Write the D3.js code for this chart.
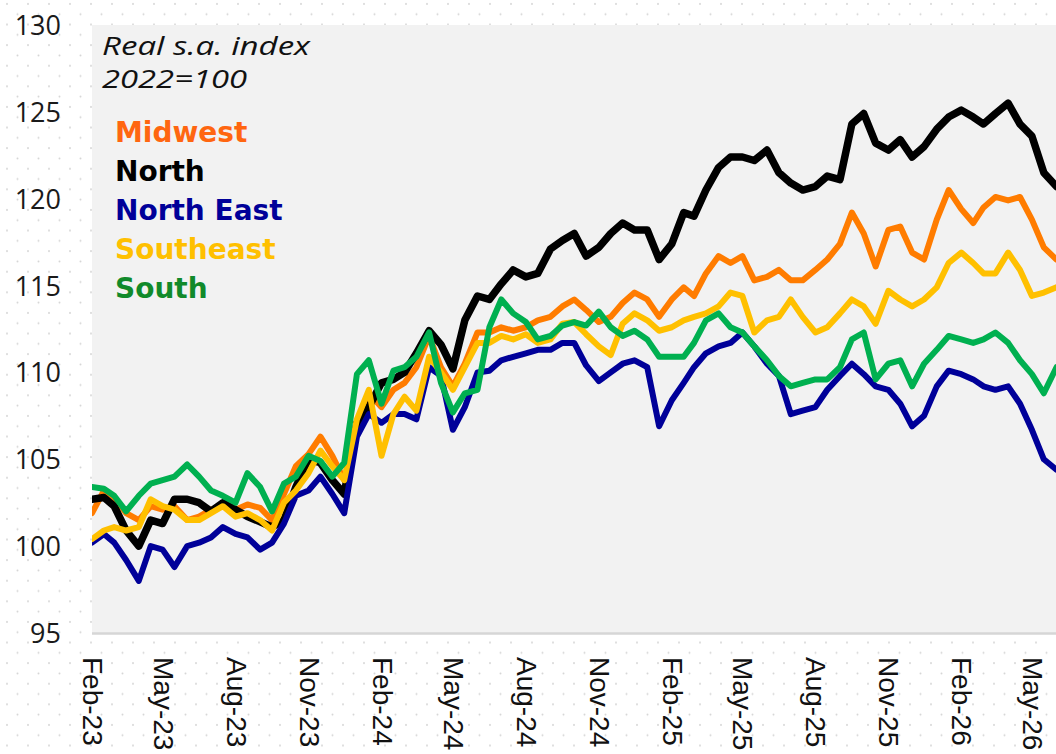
<!DOCTYPE html>
<html><head><meta charset="utf-8">
<script src="https://cdn.jsdelivr.net/npm/d3@7"></script>
<style>html,body{margin:0;padding:0;background:#fff;}svg{display:block;}</style>
</head><body>
<svg id="chart" width="1056" height="754"></svg>
<script>
const dates = ["2023-02-01","2023-02-16","2023-03-01","2023-03-16","2023-04-01","2023-04-16","2023-05-01","2023-05-16","2023-06-01","2023-06-16","2023-07-01","2023-07-16","2023-08-01","2023-08-16","2023-09-01","2023-09-16","2023-10-01","2023-10-16","2023-11-01","2023-11-16","2023-12-01","2023-12-16",
"2024-01-01","2024-01-16","2024-02-01","2024-02-16","2024-03-01","2024-03-16","2024-04-01","2024-04-16","2024-05-01","2024-05-16","2024-06-01","2024-06-16","2024-07-01","2024-07-16","2024-08-01","2024-08-16","2024-09-01","2024-09-16","2024-10-01","2024-10-16","2024-11-01","2024-11-16","2024-12-01","2024-12-16",
"2025-01-01","2025-01-16","2025-02-01","2025-02-16","2025-03-01","2025-03-16","2025-04-01","2025-04-16","2025-05-01","2025-05-16","2025-06-01","2025-06-16","2025-07-01","2025-07-16","2025-08-01","2025-08-16","2025-09-01","2025-09-16","2025-10-01","2025-10-16","2025-11-01","2025-11-16","2025-12-01","2025-12-16",
"2026-01-01","2026-01-16","2026-02-01","2026-02-16","2026-03-01","2026-03-16","2026-04-01","2026-04-16","2026-05-01","2026-05-16","2026-06-01"];

const midwest = [101.9,103.2,102.8,101.9,101.5,102.3,102.1,102.3,101.5,101.7,102.1,102.3,102.1,102.4,102.2,101.5,
103.0,104.6,105.3,106.3,105.2,103.8,106.9,108.8,108.0,109.0,109.4,110.3,112.1,110.3,109.2,110.5,112.3,
112.3,112.6,112.4,112.6,113.0,113.2,113.8,114.2,113.6,112.9,113.2,
114.0,114.6,114.2,113.2,114.2,114.9,114.4,115.7,116.7,116.3,116.7,115.3,115.5,115.9,115.3,115.3,115.9,
116.5,117.4,119.2,118.0,116.1,118.2,118.4,116.9,116.5,118.8,120.5,119.4,118.6,119.5,120.1,119.9,120.1,118.8,117.2,116.5];

const north = [102.7,102.8,102.3,100.9,100.0,101.5,101.3,102.7,102.7,102.5,102.0,102.5,102.1,101.7,101.4,101.1,
101.5,103.4,105.0,104.8,103.8,103.0,107.1,108.0,109.4,109.6,110.0,111.1,112.4,111.6,110.2,113.0,114.4,
114.2,115.1,115.9,115.5,115.7,117.1,117.6,118.0,116.7,117.2,118.0,
118.6,118.2,118.2,116.5,117.4,119.2,119.0,120.5,121.8,122.4,122.4,122.2,122.8,121.5,120.9,120.5,120.7,
121.3,121.1,124.3,124.9,123.2,122.8,123.4,122.4,123.0,124.0,124.7,125.1,124.7,124.3,124.9,125.5,124.3,123.6,121.5,120.7];

const northEast = [100.2,100.7,100.2,99.2,98.0,100.0,99.8,98.8,100.0,100.2,100.5,101.1,100.7,100.5,99.8,100.2,
101.3,102.9,103.2,104.0,103.0,101.9,106.3,107.6,107.1,107.6,107.6,107.3,110.3,109.8,106.7,108.0,110.0,
110.1,110.7,110.9,111.1,111.3,111.3,111.7,111.7,110.4,109.5,110.0,
110.5,110.7,110.3,106.9,108.4,109.4,110.3,111.1,111.5,111.7,112.3,111.5,110.5,109.8,107.6,107.8,108.0,
109.0,109.8,110.5,109.9,109.2,109.0,108.2,106.9,107.5,109.2,110.1,109.9,109.6,109.2,109.0,109.2,108.2,106.7,105.0,104.4];

const southeast = [100.4,100.9,101.1,100.9,101.1,102.7,102.3,102.1,101.5,101.5,101.9,102.3,101.7,101.9,101.5,100.9,
102.5,103.2,104.2,105.5,104.6,103.8,107.3,109.0,105.2,107.6,108.6,107.8,110.9,110.0,109.0,110.3,111.7,
111.7,112.1,111.9,112.2,111.7,111.9,112.8,112.9,112.2,111.5,111.0,
112.8,113.4,113.0,112.4,112.6,113.0,113.2,113.4,113.8,114.6,114.4,112.3,113.0,113.2,114.2,113.2,112.3,
112.6,113.4,114.2,113.8,112.8,114.7,114.2,113.8,114.2,114.9,116.3,116.9,116.3,115.7,115.7,116.9,115.9,114.4,114.6,114.9];

const south = [103.4,103.3,102.9,102.0,102.9,103.6,103.8,104.0,104.7,104.0,103.2,102.9,102.5,104.2,103.4,102.0,
103.6,104.0,105.2,104.9,104.0,104.8,109.9,110.7,108.2,110.1,110.3,110.9,112.3,109.4,107.7,108.8,109.0,
112.6,114.2,113.4,112.9,111.9,112.1,112.7,112.9,112.7,113.5,112.6,
112.1,112.4,111.9,110.9,110.9,110.9,111.7,113.0,113.4,112.6,112.3,111.5,110.7,109.8,109.2,109.4,109.6,
109.6,110.3,111.9,112.3,109.6,110.5,110.7,109.2,110.5,111.3,112.1,111.9,111.7,111.9,112.3,111.7,110.7,109.9,108.8,110.3];

const seriesNames = ["Midwest","North","North East","Southeast","South"];
const xTickDates = ["2023-02-01","2023-05-01","2023-08-01","2023-11-01","2024-02-01","2024-05-01","2024-08-01","2024-11-01","2025-02-01","2025-05-01","2025-08-01","2025-11-01","2026-02-01","2026-05-01"];
const xTickLabels = ["Feb-23","May-23","Aug-23","Nov-23","Feb-24","May-24","Aug-24","Nov-24","Feb-25","May-25","Aug-25","Nov-25","Feb-26","May-26"];
const yTicks = [95,100,105,110,115,120,125,130];
const annotation = ["Real s.a. index","2022=100"];

(function draw() {
  const parse = d3.utcParse("%Y-%m-%d");
  const svg = d3.select("#chart");

  const defs = svg.append("defs");
  const pat = defs.append("pattern").attr("id","dots").attr("patternUnits","userSpaceOnUse")
    .attr("width",21).attr("height",20.6);
  pat.append("circle").attr("cx",7).attr("cy",4).attr("r",1).attr("fill","#d4d4d4");
  pat.append("circle").attr("cx",17.5).attr("cy",14.3).attr("r",1).attr("fill","#d4d4d4");
  svg.append("rect").attr("width",1056).attr("height",754).attr("fill","#fff");
  svg.append("rect").attr("width",1056).attr("height",754).attr("fill","url(#dots)");

  const pLeft = 92, pRight = 1056.5, pTop = 25, pBottom = 633;
  const x = d3.scaleUtc().domain([parse("2023-02-01"), parse("2026-06-01")]).range([pLeft, pRight]);
  const y = d3.scaleLinear().domain([95,130]).range([pBottom, pTop]);

  svg.append("rect").attr("x",pLeft).attr("y",pTop).attr("width",1056-pLeft).attr("height",pBottom-pTop).attr("fill","#f2f2f2");

  defs.append("clipPath").attr("id","clip").append("rect")
    .attr("x",pLeft).attr("y",0).attr("width",1056-pLeft).attr("height",pBottom);

  svg.append("line").attr("x1",pLeft).attr("x2",1056).attr("y1",pBottom+0.5).attr("y2",pBottom+0.5)
    .attr("stroke","#d6d6d6").attr("stroke-width",2.5);

  const lineColors = {"Midwest":"#ff7c00","North":"#000000","North East":"#000099","Southeast":"#ffc000","South":"#00b050"};
  const lineWidths = {"Midwest":6,"North":7.5,"North East":6,"Southeast":6,"South":6};
  const valuesByName = {"Midwest":midwest,"North":north,"North East":northEast,"Southeast":southeast,"South":south};
  const line = d3.line().x(d => x(d.date)).y(d => y(d.v)).curve(d3.curveLinear);
  const g = svg.append("g").attr("clip-path","url(#clip)");
  seriesNames.forEach(name => {
    const data = dates.map((d,i) => ({date: parse(d), v: valuesByName[name][i]}));
    g.append("path").datum(data).attr("d", line)
      .attr("fill","none").attr("stroke", lineColors[name]).attr("stroke-width", lineWidths[name])
      .attr("stroke-linejoin","round").attr("stroke-linecap","round");
  });

  const yAxis = svg.append("g").attr("transform","translate(61,0)")
    .call(d3.axisLeft(y).tickValues(yTicks).tickSize(0).tickPadding(0).tickFormat(d3.format("d")));
  yAxis.select(".domain").remove();
  yAxis.selectAll("text").attr("font-family","'Open Sans', 'Liberation Sans', sans-serif")
    .attr("font-size",27).attr("fill","#1a1a1a").attr("dy","0.35em");

  const xAxis = svg.append("g").attr("transform",`translate(0,${pBottom})`)
    .call(d3.axisBottom(x).tickValues(xTickDates.map(parse)).tickSize(0)
      .tickFormat((d,i) => xTickLabels[i]));
  xAxis.select(".domain").remove();
  xAxis.selectAll("text")
    .attr("x",0).attr("y",0).attr("dy",null)
    .attr("transform","translate(0,24) rotate(90)")
    .attr("text-anchor","start").attr("dominant-baseline","central")
    .attr("font-family","'Liberation Sans', Arial, sans-serif").attr("font-size",28).attr("fill","#111");

  svg.append("text").attr("x",102).attr("y",55).text(annotation[0])
    .attr("font-family","'Open Sans', sans-serif").attr("font-style","italic").attr("font-size",26)
    .attr("textLength",208).attr("lengthAdjust","spacingAndGlyphs").attr("fill","#111");
  svg.append("text").attr("x",102).attr("y",88).text(annotation[1])
    .attr("font-family","'Open Sans', sans-serif").attr("font-style","italic").attr("font-size",26)
    .attr("textLength",145).attr("lengthAdjust","spacingAndGlyphs").attr("fill","#111");

  const legendColors = {"Midwest":"#ff6610","North":"#000000","North East":"#000099","Southeast":"#ffc000","South":"#118a2b"};
  seriesNames.forEach((name,i) => {
    svg.append("text").attr("x",115).attr("y",142 + i*39).text(name)
      .attr("font-family","'DejaVu Sans', Verdana, sans-serif").attr("font-weight","bold").attr("font-size",28)
      .attr("fill", legendColors[name]);
  });
})();
</script>
</body></html>
